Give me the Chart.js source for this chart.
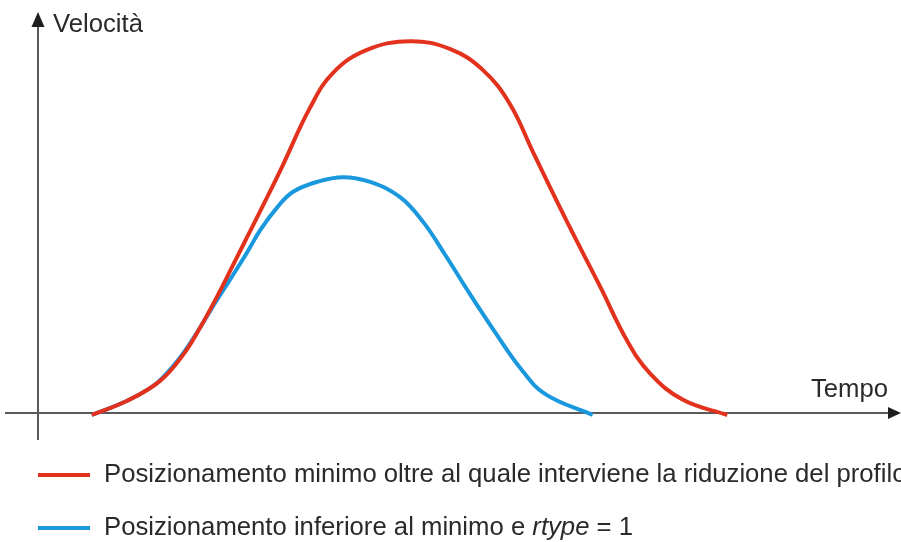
<!DOCTYPE html>
<html><head><meta charset="utf-8">
<script src="https://cdn.jsdelivr.net/npm/chart.js@4/dist/chart.umd.min.js"></script>
<style>html,body{margin:0;padding:0;background:#fff}</style>
</head><body>
<canvas id="c" width="901" height="542"></canvas>
<script>
// Time (arbitrary units, 0..100) and velocity (arbitrary units, 0..100)
const redTime  = [6.3,10.4,14.3,17.0,19.0,21.0,22.9,24.9,26.9,28.8,31.9,34.6,38.6,43.7,48.4,52.2,55.4,58.1,62.1,66.0,69.1,71.8,75.7,80.9];
const redSpeed = [-0.5,3.0,8.0,14.5,21.3,29.1,37.1,45.6,54.1,62.4,76.4,85.2,91.0,93.2,91.2,86.0,77.4,65.4,47.9,31.6,18.3,10.0,3.3,-0.5];
const blueTime  = [6.3,10.4,13.2,14.7,16.7,18.7,20.5,22.5,24.5,26.1,28.1,29.9,32.7,35.8,39.0,42.5,45.2,47.8,50.7,53.7,56.6,59.5,65.1];
const blueSpeed = [-0.5,3.0,6.3,9.0,14.0,20.3,26.6,33.3,40.1,45.9,51.6,55.4,57.9,59.1,57.9,54.1,47.9,39.6,29.8,20.1,11.3,4.8,-0.5];
const seriesNames = [
  "Posizionamento minimo oltre al quale interviene la riduzione del profilo",
  "Posizionamento inferiore al minimo e "
];
const seriesSuffixItalic = ["", "rtype"];
const seriesSuffix = ["", " = 1"];
const xAxisTitle = "Tempo";
const yAxisTitle = "Velocità";

const RED = "#e2311d", BLUE = "#1a98de", TXT = "#2a2a2a", AX = "#5a5a5a";
const FONT = "25.7px 'Liberation Sans', Arial, Helvetica, sans-serif";
const FONT_I = "italic 25.7px 'Liberation Sans', Arial, Helvetica, sans-serif";

const toPts = (xs, ys) => xs.map((x, i) => ({x, y: ys[i]}));

const decor = {
  id: 'decor',
  beforeDatasetsDraw(chart) {
    const ctx = chart.ctx, xs = chart.scales.x, ys = chart.scales.y;
    const x0 = xs.getPixelForValue(0), y0 = ys.getPixelForValue(0);
    const xEnd = xs.getPixelForValue(100), yTop = ys.getPixelForValue(100);
    ctx.save();
    ctx.strokeStyle = AX; ctx.lineWidth = 2;
    ctx.beginPath(); ctx.moveTo(5, y0); ctx.lineTo(xEnd, y0); ctx.stroke();
    ctx.beginPath(); ctx.moveTo(x0, y0 + 27); ctx.lineTo(x0, yTop + 12); ctx.stroke();
    ctx.fillStyle = "#1e1e1e";
    ctx.beginPath(); ctx.moveTo(xEnd + 11, y0); ctx.lineTo(xEnd - 2, y0 - 6); ctx.lineTo(xEnd - 2, y0 + 6); ctx.closePath(); ctx.fill();
    ctx.beginPath(); ctx.moveTo(x0, yTop - 2); ctx.lineTo(x0 - 6.5, yTop + 13); ctx.lineTo(x0 + 6.5, yTop + 13); ctx.closePath(); ctx.fill();
    ctx.fillStyle = TXT; ctx.font = FONT; ctx.textBaseline = 'alphabetic';
    ctx.textAlign = 'left';
    ctx.fillText(yAxisTitle, x0 + 15, yTop + 18);
    ctx.textAlign = 'right';
    ctx.fillText(xAxisTitle, xEnd - 2, y0 - 16);
    ctx.restore();
  },
  afterDraw(chart) {
    const ctx = chart.ctx;
    const colors = [RED, BLUE];
    const rows = [475, 528];
    ctx.save();
    for (let i = 0; i < 2; i++) {
      const y = rows[i];
      ctx.strokeStyle = colors[i]; ctx.lineWidth = 4; ctx.lineCap = 'butt';
      ctx.beginPath(); ctx.moveTo(38, y); ctx.lineTo(90, y); ctx.stroke();
      ctx.fillStyle = TXT; ctx.textAlign = 'left'; ctx.textBaseline = 'middle';
      let x = 104;
      ctx.font = FONT; ctx.fillText(seriesNames[i], x, y); x += ctx.measureText(seriesNames[i]).width;
      if (seriesSuffixItalic[i]) { ctx.font = FONT_I; ctx.fillText(seriesSuffixItalic[i], x, y); x += ctx.measureText(seriesSuffixItalic[i]).width; }
      if (seriesSuffix[i]) { ctx.font = FONT; ctx.fillText(seriesSuffix[i], x, y); }
    }
    ctx.restore();
  }
};

new Chart(document.getElementById('c'), {
  type: 'line',
  data: {
    datasets: [
      {label: seriesNames[0], data: toPts(redTime, redSpeed), borderColor: RED, borderWidth: 4, pointRadius: 0, tension: 0.4, fill: false, clip: false},
      {label: seriesNames[1] + seriesSuffixItalic[1] + seriesSuffix[1], data: toPts(blueTime, blueSpeed), borderColor: BLUE, borderWidth: 4, pointRadius: 0, tension: 0.4, fill: false, clip: false}
    ]
  },
  options: {
    responsive: false, animation: false,
    layout: {padding: {left: 38, top: 14, right: 11, bottom: 129}},
    scales: {
      x: {type: 'linear', min: 0, max: 100, display: false},
      y: {type: 'linear', min: 0, max: 100, display: false}
    },
    plugins: {legend: {display: false}, tooltip: {enabled: false}}
  },
  plugins: [decor]
});
</script>
</body></html>
